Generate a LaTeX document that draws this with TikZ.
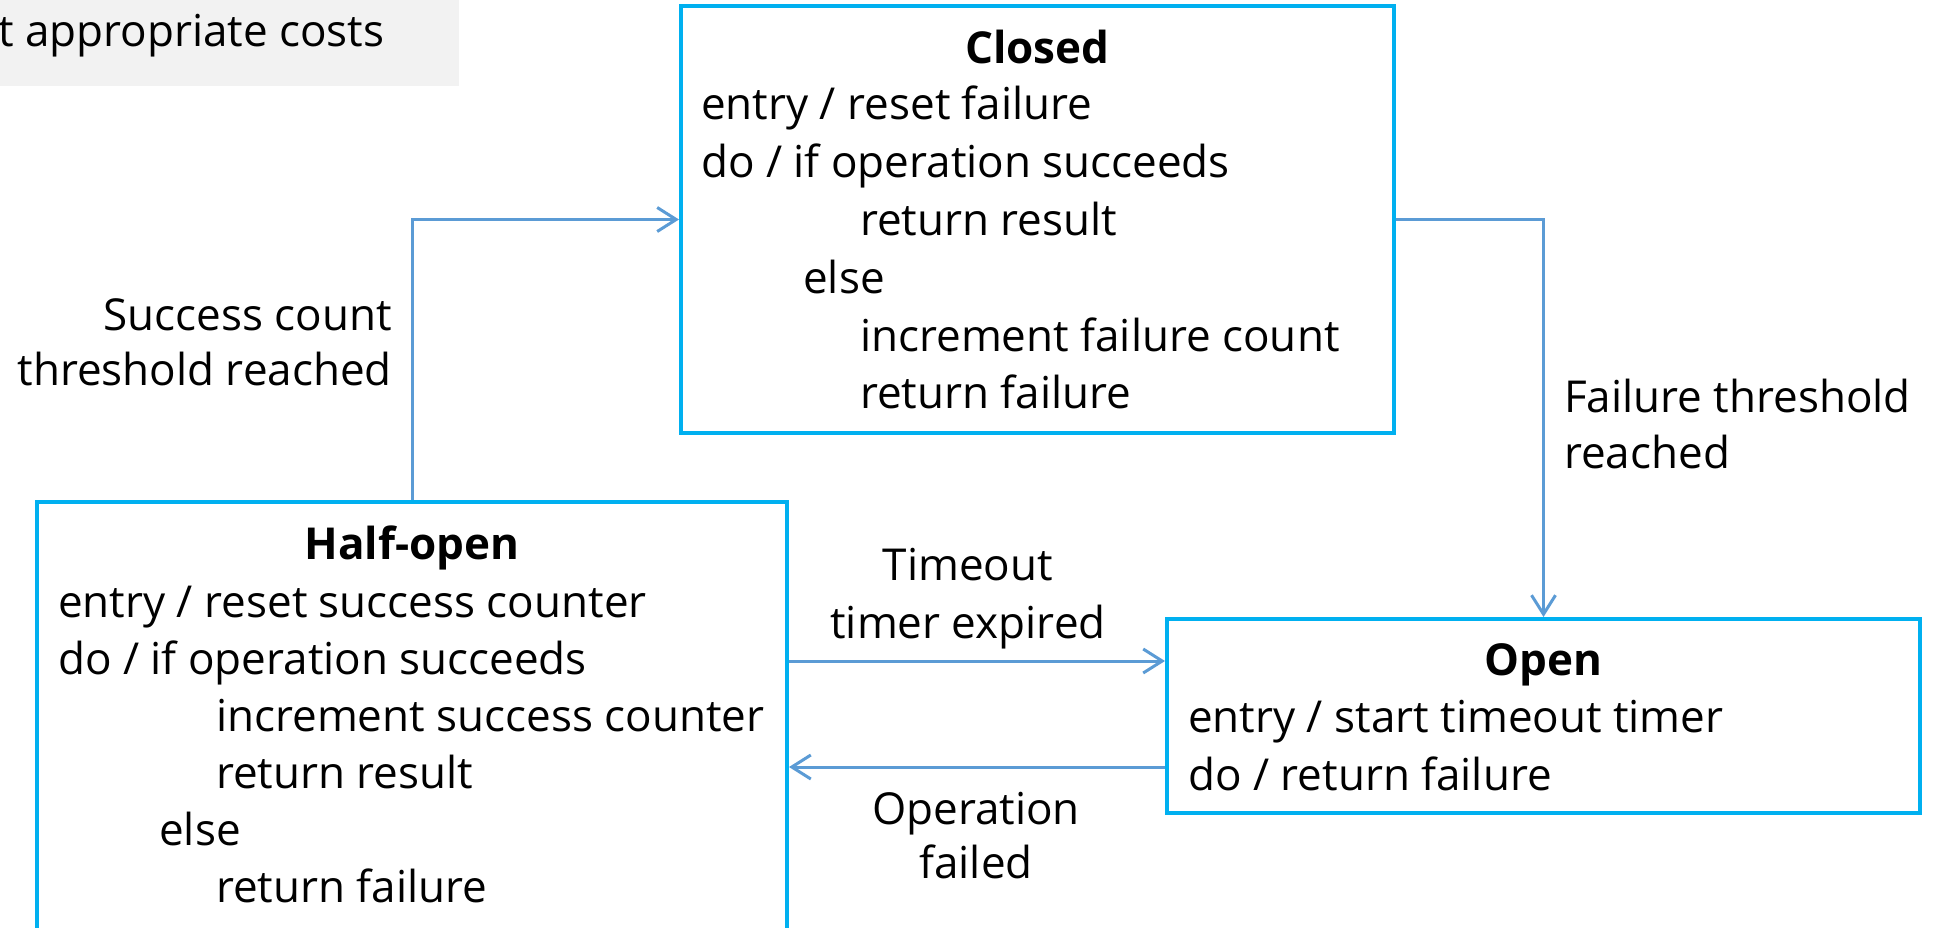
\documentclass[tikz,border=0pt]{standalone}
\usepackage{fontspec}
\setmainfont{Open Sans}
\usetikzlibrary{arrows.meta}
\definecolor{stateblue}{HTML}{00B0F0}
\definecolor{linkblue}{HTML}{5B9BD5}
\definecolor{notegray}{HTML}{F2F2F2}

\begin{document}
\begin{tikzpicture}[x=1pt,y=-1pt,
  statebox/.style={draw=stateblue, line width=4pt, inner sep=0pt},
  body/.style={inner sep=0pt, anchor=base west, font=\fontsize{44}{58}\selectfont},
  title/.style={inner sep=0pt, anchor=base, font=\fontsize{44}{58}\selectfont\bfseries},
  lbl/.style={inner sep=0pt, font=\fontsize{44}{58}\selectfont},
  link/.style={draw=linkblue, line width=3pt,
    -{Straight Barb[length=19pt,width=24pt,line width=3pt]}},
]
\useasboundingbox (0,0) rectangle (1934,927);

% note strip at the top left
\node[fill=notegray, inner sep=0pt, minimum width=459pt, minimum height=86pt] (note) at (229.5,43) {};
\node[body] (notetxt) at (-2,46) {t appropriate costs};

% states
\node[statebox, minimum width=713pt, minimum height=427pt] (closed) at (1037.5,219.5) {};
\node[statebox, minimum width=750pt, minimum height=428pt] (half) at (412,716) {};
\node[statebox, minimum width=753pt, minimum height=194pt] (open) at (1543.5,716) {};

% Closed
\node[title] (closedT) at (1037.5,63) {Closed};
\node[body] (c1) at (701,119) {entry / reset failure};
\node[body] (c2) at (701,177) {do / if operation succeeds};
\node[body] (c3) at (860,235) {return result};
\node[body] (c4) at (803,293) {else};
\node[body] (c5) at (860,351) {increment failure count};
\node[body] (c6) at (860,408) {return failure};

% Half-open
\node[title] (halfT) at (412,559) {Half-open};
\node[body] (h1) at (58,617) {entry / reset success counter};
\node[body] (h2) at (58,674) {do / if operation succeeds};
\node[body] (h3) at (216,731) {increment success counter};
\node[body] (h4) at (216,788) {return result};
\node[body] (h5) at (159,845) {else};
\node[body] (h6) at (216,902) {return failure};

% Open
\node[title] (openT) at (1543.5,675) {Open};
\node[body] (o1) at (1188,732) {entry / start timeout timer};
\node[body] (o2) at (1188,790) {do / return failure};

% transitions
\coordinate (upper) at (0,661);
\coordinate (lower) at (0,767);
\draw[link] (half.north) |- (closed.west);
\draw[link] (closed.east) -| (open.north);
\draw[link] (half.east |- upper) -- (open.west |- upper);
\draw[link] (open.west |- lower) -- (half.east |- lower);

% transition labels
\node[lbl, anchor=base east] (s1) at (392,330) {Success count};
\node[lbl, anchor=base east] (s2) at (392,385) {threshold reached};
\node[lbl, anchor=base west] (f1) at (1564,412) {Failure threshold};
\node[lbl, anchor=base west] (f2) at (1564,468) {reached};
\node[lbl, anchor=base] (t1) at (968,580) {Timeout};
\node[lbl, anchor=base] (t2) at (968,638) {timer expired};
\node[lbl, anchor=base] (p1) at (976,824) {Operation};
\node[lbl, anchor=base] (p2) at (976,878) {failed};
\end{tikzpicture}
\end{document}
